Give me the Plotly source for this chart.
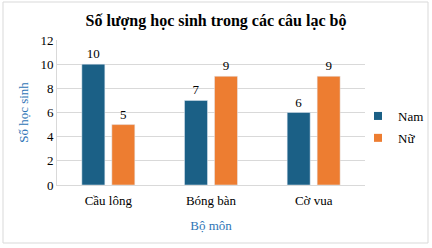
import plotly.graph_objects as go

categories = ["Cầu lông", "Bóng bàn", "Cờ vua"]
nam = [10, 7, 6]
nu = [5, 9, 9]
series_names = ["Nam", "Nữ"]
y_ticks = [0, 2, 4, 6, 8, 10, 12]

FONT = "'Liberation Serif', 'Times New Roman', 'DejaVu Serif', serif"
COLORS = ["#1B6086", "#ED7D31"]
fig = go.Figure()
for name, vals, col in zip(series_names, [nam, nu], COLORS):
    fig.add_trace(go.Bar(name=name, x=categories, y=vals, marker_color=col,
                         text=vals, textposition="outside", cliponaxis=False,
                         showlegend=False,
                         textfont=dict(family=FONT, size=13, color="#000")))
# legend entries with small square swatches
for name, col in zip(series_names, COLORS):
    fig.add_trace(go.Scatter(name=name, x=[None], y=[None], mode="markers",
                             marker=dict(symbol="square", size=8, color=col),
                             legendgroup=name, showlegend=True))

L, R, T, B = 57, 67, 40, 63
W, H = 432, 248
pw, ph = W - L - R, H - T - B

def px(x):
    return (x - L) / pw

def py(y):
    return (H - B - y) / ph

fig.update_layout(
    width=W, height=H,
    margin=dict(l=L, r=R, t=T, b=B, autoexpand=False),
    paper_bgcolor="white", plot_bgcolor="white",
    font=dict(family=FONT, size=13, color="#000"),
    barmode="group", bargap=0.416, bargroupgap=0.233,
    title=dict(text="<b>Số lượng học sinh trong các câu lạc bộ</b>",
               x=0.5, xanchor="center", y=1 - 20 / H, yanchor="middle",
               font=dict(family=FONT, size=16, color="#000")),
    xaxis=dict(showgrid=False, showline=True, linecolor="#D9D9D9", ticks="",
               automargin=False, ticklabelstandoff=3,
               title=dict(text="Bộ môn", font=dict(family=FONT, size=13, color="#2E75B6"),
                          standoff=14),
               tickfont=dict(family=FONT, size=13)),
    yaxis=dict(range=[0, 12], tickvals=y_ticks, showgrid=True, gridcolor="#D9D9D9",
               zeroline=False, ticks="", showline=True, linecolor="#D9D9D9",
               automargin=False,
               title=dict(text="Số học sinh", font=dict(family=FONT, size=13, color="#2E75B6"),
                          standoff=8),
               tickfont=dict(family=FONT, size=13)),
    legend=dict(x=px(358), y=py(101), xanchor="left", yanchor="top",
                font=dict(family=FONT, size=13), itemwidth=30, tracegroupgap=2,
                traceorder="grouped", bgcolor="rgba(0,0,0,0)"),
    showlegend=True,
    shapes=[dict(type="rect", xref="paper", yref="paper",
                 x0=px(3), x1=px(428), y0=py(243), y1=py(2),
                 line=dict(color="#D9D9D9", width=1), fillcolor="rgba(0,0,0,0)",
                 layer="below")],
)
fig.write_html("out.html")
